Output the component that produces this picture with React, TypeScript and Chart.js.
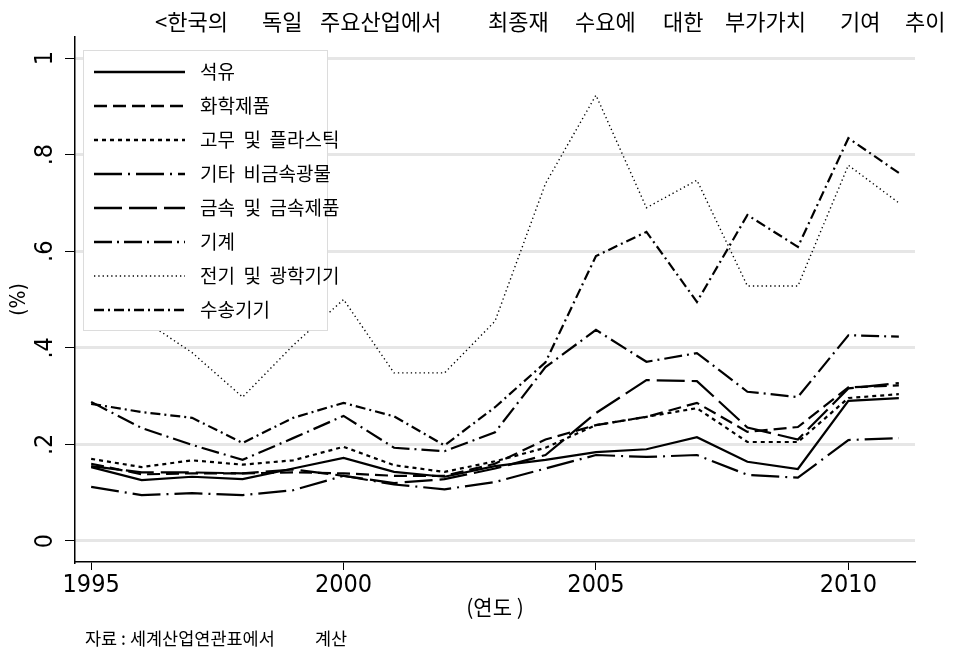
import React, { useEffect, useRef } from 'react';
import { Chart, registerables } from 'chart.js';

Chart.register(...registerables);

const years = [1995, 1996, 1997, 1998, 1999, 2000, 2001, 2002, 2003, 2004, 2005, 2006, 2007, 2008, 2009, 2010, 2011];

const seriesNames = ['석유', '화학제품', '고무 및 플라스틱', '기타 비금속광물', '금속 및 금속제품', '기계', '전기 및 광학기기', '수송기기'];

const petroleum = [0.153, 0.126, 0.133, 0.128, 0.15, 0.172, 0.143, 0.133, 0.155, 0.168, 0.184, 0.19, 0.215, 0.164, 0.149, 0.29, 0.296];
const chemicals = [0.16, 0.138, 0.14, 0.14, 0.142, 0.14, 0.135, 0.135, 0.16, 0.21, 0.24, 0.257, 0.286, 0.226, 0.236, 0.318, 0.322];
const rubberPlastics = [0.17, 0.153, 0.167, 0.158, 0.167, 0.195, 0.157, 0.143, 0.165, 0.193, 0.24, 0.257, 0.275, 0.205, 0.205, 0.296, 0.304];
const nonMetallic = [0.112, 0.095, 0.099, 0.095, 0.105, 0.135, 0.117, 0.107, 0.122, 0.15, 0.178, 0.174, 0.178, 0.137, 0.131, 0.209, 0.213];
const metals = [0.155, 0.142, 0.142, 0.14, 0.148, 0.135, 0.12, 0.128, 0.15, 0.178, 0.265, 0.333, 0.331, 0.235, 0.21, 0.316, 0.327];
const machinery = [0.288, 0.234, 0.199, 0.168, 0.213, 0.259, 0.193, 0.186, 0.225, 0.36, 0.437, 0.371, 0.389, 0.309, 0.298, 0.426, 0.423];
const electrical = [0.48, 0.46, 0.39, 0.298, 0.405, 0.5, 0.348, 0.348, 0.455, 0.74, 0.923, 0.69, 0.747, 0.528, 0.528, 0.778, 0.7];
const transport = [0.284, 0.267, 0.255, 0.203, 0.255, 0.286, 0.258, 0.198, 0.277, 0.37, 0.59, 0.64, 0.495, 0.675, 0.609, 0.834, 0.762];

const seriesValues = [petroleum, chemicals, rubberPlastics, nonMetallic, metals, machinery, electrical, transport];

const xTicks = [1995, 2000, 2005, 2010];
const yTicks = [0, 0.2, 0.4, 0.6, 0.8, 1];
const yTickLabels = ['0', '.2', '.4', '.6', '.8', '1'];

const titleWords = ['<한국의', '독일', '주요산업에서', '최종재', '수요에', '대한', '부가가치', '기여', '추이'];
const xTitle = '(연도 )';
const yTitle = '(%)';
const footerParts = ['자료 : 세계산업연관표에서', '계산'];

const dashStyles: number[][] = [[], [13, 6], [4, 4], [28, 6, 2, 6], [28, 7], [18, 5, 2, 5], [1.3, 3], [10, 4, 2, 4]];
const lineWidths = [2.2, 2.2, 2.2, 2.2, 2.2, 2.2, 1.4, 2.2];

const NARROW = "'Liberation Sans Narrow', 'Arial Narrow', 'DejaVu Sans Condensed', sans-serif";
const KR = "'Noto Sans CJK KR', sans-serif";

// layout of title words (left x in px) and footer parts
const TITLE_X = [155, 262, 320, 488, 575, 663, 725, 840, 905];
const FOOTER_X = [85, 315];

const overlayPlugin = {
  id: 'overlay',
  afterDraw(chart: any) {
    const ctx = chart.ctx as CanvasRenderingContext2D;
    const ys = chart.scales.y;
    const xs = chart.scales.x;
    ctx.save();
    ctx.fillStyle = '#000';

    // y tick labels (rotated)
    ctx.font = `25px ${NARROW}`;
    ctx.textAlign = 'center';
    ctx.textBaseline = 'middle';
    yTicks.forEach((v, i) => {
      const py = ys.getPixelForValue(v);
      ctx.save();
      ctx.translate(45, py);
      ctx.rotate(-Math.PI / 2);
      ctx.fillText(yTickLabels[i], 0, 0);
      ctx.restore();
    });

    // y title
    ctx.font = `21px ${NARROW}`;
    ctx.save();
    ctx.translate(20, ys.getPixelForValue(0.5));
    ctx.rotate(-Math.PI / 2);
    ctx.fillText(yTitle, 0, 0);
    ctx.restore();

    // x title
    ctx.font = `21px ${KR}`;
    ctx.fillText(xTitle, (xs.getPixelForValue(1995) + xs.getPixelForValue(2011)) / 2, 607);

    // title
    ctx.font = `22px ${KR}`;
    ctx.textAlign = 'left';
    titleWords.forEach((w, i) => ctx.fillText(w, TITLE_X[i], 22));

    // footer
    ctx.font = `17.5px ${KR}`;
    footerParts.forEach((w, i) => ctx.fillText(w, FOOTER_X[i], 638));

    // legend
    const bx = 83, by = 50, bw = 244, bh = 280;
    ctx.fillStyle = '#fff';
    ctx.fillRect(bx, by, bw, bh);
    ctx.strokeStyle = '#dcdcdc';
    ctx.lineWidth = 1;
    ctx.strokeRect(bx + 0.5, by + 0.5, bw, bh);
    ctx.font = `19px ${KR}`;
    ctx.textBaseline = 'middle';
    seriesNames.forEach((name, i) => {
      const yy = 72 + i * 34;
      ctx.save();
      ctx.strokeStyle = '#000';
      ctx.lineWidth = i === 6 ? 1.5 : 2.6;
      ctx.setLineDash(dashStyles[i]);
      ctx.lineCap = 'butt';
      ctx.beginPath();
      ctx.moveTo(94, yy);
      ctx.lineTo(185, yy);
      ctx.stroke();
      ctx.restore();
      ctx.fillStyle = '#000';
      ctx.fillText(name.split(' ').join('  '), 200, yy);
    });
    ctx.restore();
  },
};

export default function App() {
  const ref = useRef<HTMLCanvasElement>(null);
  useEffect(() => {
    if (!ref.current) return;
    const datasets = seriesNames.map((name, i) => ({
      label: name,
      data: years.map((yr, j) => ({ x: yr, y: seriesValues[i][j] })),
      borderColor: '#000',
      borderWidth: lineWidths[i],
      borderDash: dashStyles[i],
      borderCapStyle: 'butt' as const,
      pointRadius: 0,
      tension: 0,
      fill: false,
    }));
    const chart = new Chart(ref.current, {
      type: 'line',
      data: { datasets },
      options: {
        animation: false,
        responsive: false,
        maintainAspectRatio: false,
        layout: { padding: { top: 37, right: 45, left: 0, bottom: 0 } },
        plugins: { legend: { display: false }, title: { display: false }, tooltip: { enabled: false } },
        scales: {
          x: {
            type: 'linear',
            min: 1994.68,
            max: 2011.32,
            afterBuildTicks: (axis: any) => {
              axis.ticks = xTicks.map((v) => ({ value: v }));
            },
            afterFit: (axis: any) => {
              axis.height = 100;
            },
            ticks: {
              autoSkip: false,
              maxRotation: 0,
              minRotation: 0,
              padding: 0,
              color: '#000',
              font: { family: NARROW, size: 25 },
              callback: (v: any) => String(v),
            },
            grid: { display: true, drawOnChartArea: false, drawTicks: true, tickLength: 8, tickColor: '#000', tickWidth: 1 },
            border: { display: true, color: '#000', width: 1.5 },
          },
          y: {
            type: 'linear',
            min: -0.0435,
            max: 1.0435,
            afterBuildTicks: (axis: any) => {
              axis.ticks = yTicks.map((v) => ({ value: v }));
            },
            afterFit: (axis: any) => {
              axis.width = 75;
            },
            ticks: { display: false },
            grid: { display: true, drawOnChartArea: true, color: '#e6e6e6', lineWidth: 3, drawTicks: true, tickLength: 10, tickColor: '#000', tickWidth: 1 },
            border: { display: true, color: '#000', width: 1.5 },
          },
        },
      },
      plugins: [overlayPlugin],
    });
    return () => chart.destroy();
  }, []);
  return (
    <div style={{ position: 'absolute', left: 0, top: 0, width: 960, height: 662, background: '#fff' }}>
      <canvas ref={ref} width={960} height={662} style={{ display: 'block', width: 960, height: 662 }} />
    </div>
  );
}
